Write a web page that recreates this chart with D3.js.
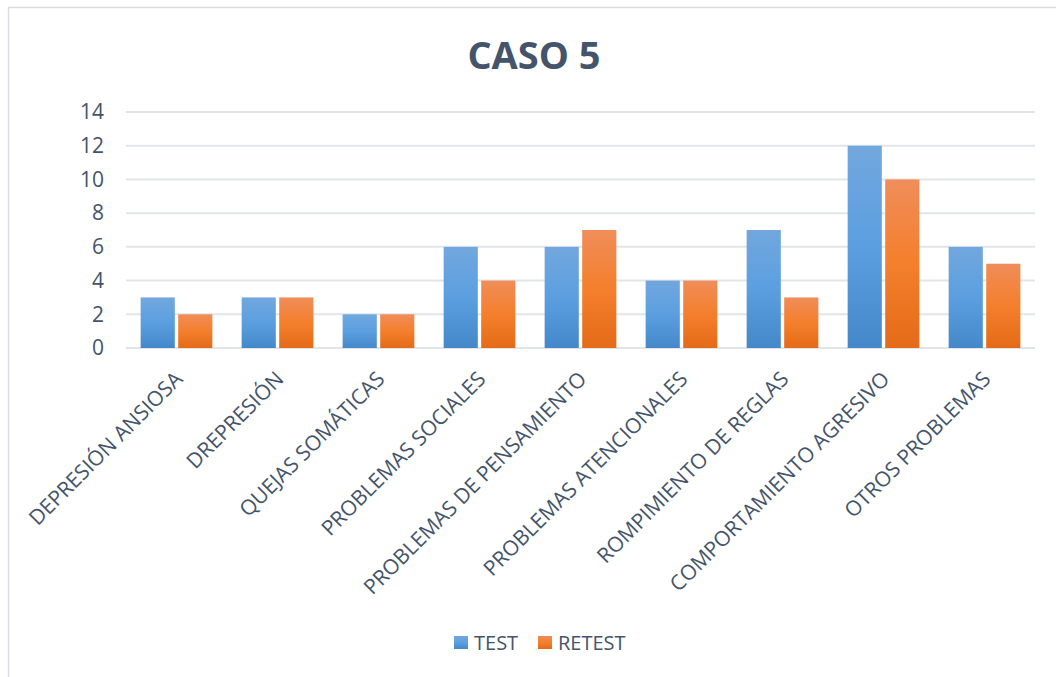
<!DOCTYPE html>
<html>
<head>
<meta charset="utf-8">
<script src="https://cdn.jsdelivr.net/npm/d3@7"></script>
<style>
  html, body { margin: 0; padding: 0; background: #fff; }
  svg { display: block; font-family: "Open Sans", sans-serif; }
</style>
</head>
<body>
<div id="chart"></div>
<script>
// chart data
const categories = [
    "DEPRESIÓN ANSIOSA",
    "DREPRESIÓN",
    "QUEJAS SOMÁTICAS",
    "PROBLEMAS SOCIALES",
    "PROBLEMAS DE PENSAMIENTO",
    "PROBLEMAS ATENCIONALES",
    "ROMPIMIENTO DE REGLAS",
    "COMPORTAMIENTO AGRESIVO",
    "OTROS PROBLEMAS"
];
const testValues = [3, 3, 2, 6, 6, 4, 7, 12, 6];
const retestValues = [2, 3, 2, 4, 7, 4, 3, 10, 5];
const seriesNames = ["TEST", "RETEST"];
const yTicks = [0, 2, 4, 6, 8, 10, 12, 14];

const width = 1056, height = 677;
const margin = { top: 112, right: 21, bottom: 329, left: 126 };
const textColor = "#44546a";
const gridColor = "#e1e5ea";

const svg = d3.select("#chart")
    .append("svg")
    .attr("width", width)
    .attr("height", height);

/** gradients like the office fill */
const defs = svg.append("defs");
const grads = [
    { id: "gBlue", stops: ["#72a7de", "#5b9fe0", "#4488c9"] },
    { id: "gOrange", stops: ["#f08d5a", "#f47f2c", "#e46b18"] }
];
grads.forEach(g => {
    let lg = defs.append("linearGradient")
        .attr("id", g.id)
        .attr("x1", 0).attr("y1", 0).attr("x2", 0).attr("y2", 1);
    g.stops.forEach((c, i) => {
        lg.append("stop").attr("offset", i / 2).attr("stop-color", c);
    });
});

// outer frame
svg.append("rect")
    .attr("x", 8.5).attr("y", 7.5)
    .attr("width", 1060).attr("height", 700)
    .attr("fill", "none")
    .attr("stroke", "#d9dde3")
    .attr("stroke-width", 1.5);

// title
svg.append("text")
    .attr("x", 534)
    .attr("y", 69)
    .attr("text-anchor", "middle")
    .attr("font-size", 38)
    .attr("font-weight", "bold")
    .attr("fill", textColor)
    .text("CASO 5");

const plotW = width - margin.left - margin.right;
const plotH = height - margin.top - margin.bottom;

const g = svg.append("g")
    .attr("transform", `translate(${margin.left},${margin.top})`);

const x = d3.scaleBand()
    .domain(categories)
    .range([0, plotW])
    .paddingInner(0.29)
    .paddingOuter(0.145);

const x1 = d3.scaleBand()
    .domain(seriesNames)
    .range([0, x.bandwidth()])
    .paddingInner(0.09);

const y = d3.scaleLinear()
    .domain([0, 14])
    .range([plotH, 0]);

// grid lines
g.append("g")
    .selectAll("line")
    .data(yTicks)
    .enter()
    .append("line")
        .attr("x1", 0)
        .attr("x2", plotW)
        .attr("y1", d => y(d))
        .attr("y2", d => y(d))
        .attr("stroke", gridColor)
        .attr("stroke-width", 2);

// y axis labels
const yAxis = g.append("g")
    .call(d3.axisLeft(y).tickValues(yTicks).tickSize(0).tickPadding(22));
yAxis.select(".domain").remove();
yAxis.selectAll("text")
    .attr("font-size", 21)
    .attr("font-family", "Open Sans, sans-serif")
    .attr("fill", textColor);

// bars
const rows = categories.map((c, i) => ({ cat: c, vals: [testValues[i], retestValues[i]] }));
const groups = g.selectAll(".grp")
    .data(rows)
    .enter()
    .append("g")
        .attr("transform", d => `translate(${x(d.cat)},0)`);

groups.selectAll("rect")
    .data(d => d.vals.map((v, i) => ({ key: seriesNames[i], v: v })))
    .enter()
    .append("rect")
        .attr("x", d => x1(d.key))
        .attr("y", d => y(d.v))
        .attr("width", x1.bandwidth())
        .attr("height", d => y(0) - y(d.v))
        .attr("fill", d => d.key === "TEST" ? "url(#gBlue)" : "url(#gOrange)");

// x axis labels
const xAxis = g.append("g")
    .attr("transform", `translate(0,${plotH})`)
    .call(d3.axisBottom(x).tickSize(0).tickPadding(0));
xAxis.select(".domain").remove();
xAxis.selectAll("text")
    .attr("font-size", 21)
    .attr("font-family", "Open Sans, sans-serif")
    .attr("fill", textColor)
    .attr("text-anchor", "end")
    .attr("dy", "0.7em")
    .attr("transform", "translate(-3,22) rotate(-45)");

// legend
const legend = svg.append("g")
    .attr("transform", "translate(454,636)");
const legendX = [0, 84];
seriesNames.forEach((s, i) => {
    let lg = legend.append("g").attr("transform", `translate(${legendX[i]},0)`);
    lg.append("rect")
        .attr("width", 14).attr("height", 13)
        .attr("fill", i === 0 ? "url(#gBlue)" : "url(#gOrange)");
    lg.append("text")
        .attr("x", 20)
        .attr("y", 13.5)
        .attr("font-size", 20)
        .attr("fill", textColor)
        .text(s);
});
</script>
</body>
</html>
